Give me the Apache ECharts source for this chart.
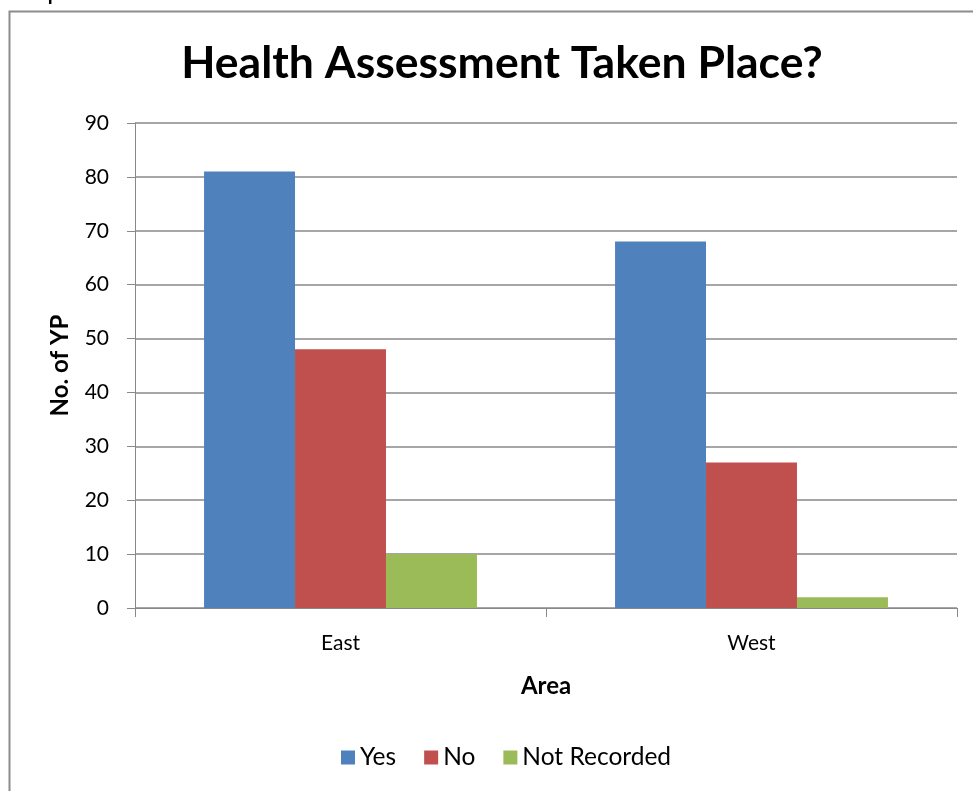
<!DOCTYPE html>
<html>
<head>
<meta charset="utf-8">
<title>Health Assessment Taken Place?</title>
<script src="https://cdn.jsdelivr.net/npm/echarts@6/dist/echarts.min.js"></script>
<style>
  html, body { margin: 0; padding: 0; background: #fff; }
  #chart { width: 973px; height: 791px; }
</style>
</head>
<body>
<div id="chart"></div>
<script>
  var areas = ['East', 'West'];
  var yes = [81, 68];
  var no = [48, 27];
  var notRecorded = [10, 2];

  var font = 'Lato, "Open Sans", sans-serif';

  var chart = echarts.init(document.getElementById('chart'));

  chart.setOption({
    animation: false,
    title: {
      text: 'Health Assessment Taken Place?',
      left: 497,
      textAlign: 'center',
      top: 36,
      textStyle: { fontFamily: font, fontSize: 44.5, fontWeight: 'bold', color: '#000' }
    },
    graphic: [
      {
        type: 'rect',
        shape: { x: 9.5, y: 11.5, width: 990, height: 900 },
        style: { fill: 'none', stroke: '#8c8c8c', lineWidth: 2 }
      },
      {
        type: 'text',
        left: 16,
        top: -16,
        style: { text: 'Graph 10', font: 'bold 20px ' + font, fill: '#000' }
      }
    ],
    legend: {
      bottom: 16,
      left: 336,
      itemWidth: 14,
      itemHeight: 14,
      itemGap: 28,
      icon: 'rect',
      textStyle: { fontFamily: font, fontSize: 24.5, color: '#000', padding: [0, 0, 0, 0] },
      data: ['Yes', 'No', 'Not Recorded']
    },
    grid: {
      left: 135,
      right: 16,
      top: 123,
      bottom: 183
    },
    xAxis: {
      type: 'category',
      data: areas,
      name: 'Area',
      nameLocation: 'middle',
      nameGap: 66,
      nameTextStyle: { fontFamily: font, fontSize: 24, fontWeight: 'bold', color: '#000' },
      axisLine: { lineStyle: { color: '#888', width: 1 } },
      axisTick: { show: true, length: 9, lineStyle: { color: '#888' } },
      axisLabel: { fontFamily: font, fontSize: 21, color: '#000', margin: 25 }
    },
    yAxis: {
      type: 'value',
      min: 0,
      max: 90,
      interval: 10,
      name: 'No. of YP',
      nameLocation: 'middle',
      nameGap: 63,
      nameTextStyle: { fontFamily: font, fontSize: 24, fontWeight: 'bold', color: '#000' },
      axisLine: { show: true, lineStyle: { color: '#888', width: 1 } },
      axisTick: { show: true, length: 8, lineStyle: { color: '#888' } },
      axisLabel: { fontFamily: font, fontSize: 21, color: '#000', margin: 26 },
      splitLine: { lineStyle: { color: '#a6a6a6', width: 2 } }
    },
    series: [
      {
        name: 'Yes',
        type: 'bar',
        data: yes,
        barGap: '0%',
        barCategoryGap: '33.6%',
        itemStyle: { color: '#4f81bd' }
      },
      {
        name: 'No',
        type: 'bar',
        data: no,
        itemStyle: { color: '#c0504d' }
      },
      {
        name: 'Not Recorded',
        type: 'bar',
        data: notRecorded,
        itemStyle: { color: '#9bbb59' }
      }
    ]
  });
</script>
</body>
</html>
